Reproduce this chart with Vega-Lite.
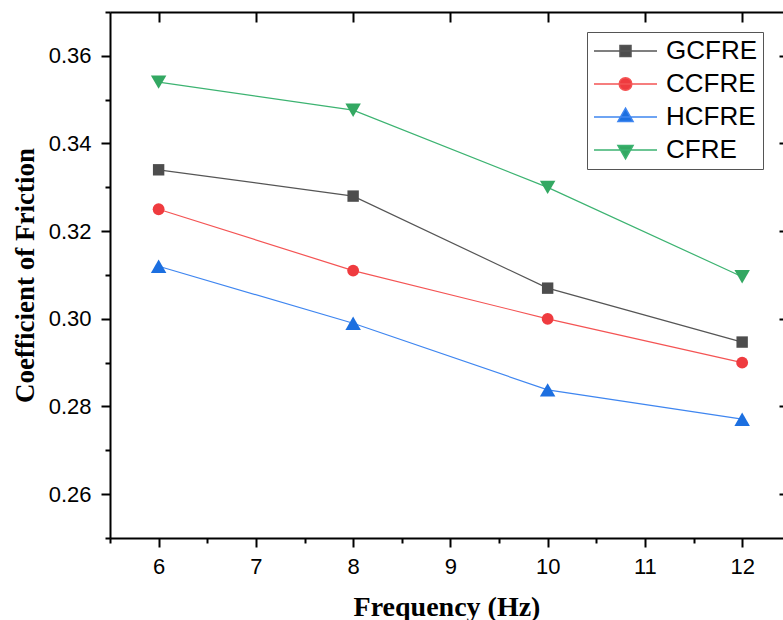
{
  "$schema": "https://vega.github.io/schema/vega-lite/v6.json",
  "autosize": {"type": "none"},
  "padding": {"left": 110, "top": 12, "right": 0, "bottom": 82},
  "width": 673,
  "height": 526,
  "background": "white",
  "config": {
    "view": {"stroke": null},
    "axis": {
      "grid": false,
      "domainColor": "black",
      "domainWidth": 2,
      "tickColor": "black",
      "tickWidth": 2,
      "labelFont": "Liberation Sans",
      "labelFontSize": 22,
      "labelColor": "black",
      "titleFont": "Liberation Serif",
      "titleFontWeight": "bold",
      "titleFontSize": 27,
      "titleColor": "black"
    }
  },
  "data": {
    "values": [
      {"freq": 6, "cof": 0.334, "series": "GCFRE"},
      {"freq": 8, "cof": 0.328, "series": "GCFRE"},
      {"freq": 10, "cof": 0.307, "series": "GCFRE"},
      {"freq": 12, "cof": 0.2947, "series": "GCFRE"},
      {"freq": 6, "cof": 0.325, "series": "CCFRE"},
      {"freq": 8, "cof": 0.311, "series": "CCFRE"},
      {"freq": 10, "cof": 0.300, "series": "CCFRE"},
      {"freq": 12, "cof": 0.290, "series": "CCFRE"},
      {"freq": 6, "cof": 0.312, "series": "HCFRE"},
      {"freq": 8, "cof": 0.299, "series": "HCFRE"},
      {"freq": 10, "cof": 0.2838, "series": "HCFRE"},
      {"freq": 12, "cof": 0.2771, "series": "HCFRE"},
      {"freq": 6, "cof": 0.354, "series": "CFRE"},
      {"freq": 8, "cof": 0.3476, "series": "CFRE"},
      {"freq": 10, "cof": 0.330, "series": "CFRE"},
      {"freq": 12, "cof": 0.3096, "series": "CFRE"}
    ]
  },
  "resolve": {"axis": {"x": "independent", "y": "independent"}},
  "layer": [
    {
      "mark": {"type": "line", "strokeWidth": 1.2},
      "encoding": {
        "x": {"field": "freq", "type": "quantitative",
              "scale": {"domain": [5.5, 12.42], "nice": false, "zero": false},
              "axis": {"orient": "bottom", "values": [6, 7, 8, 9, 10, 11, 12], "tickSize": 9, "labelPadding": 9,
                       "title": "Frequency (Hz)", "titlePadding": 16, "titleFontSize": 28}},
        "y": {"field": "cof", "type": "quantitative",
              "scale": {"domain": [0.25, 0.37], "nice": false, "zero": false},
              "axis": {"orient": "left", "values": [0.26, 0.28, 0.30, 0.32, 0.34, 0.36], "format": ".2f", "tickSize": 9, "labelPadding": 10,
                       "title": "Coefficient of Friction", "titlePadding": 9}},
        "stroke": {"field": "series", "type": "nominal",
                   "scale": {"domain": ["GCFRE", "CCFRE", "HCFRE", "CFRE"], "range": ["#555555", "#f45454", "#3f86f0", "#3cb371"]}},
        "detail": {"field": "series"}
      }
    },
    {
      "transform": [{"filter": "datum.series == 'GCFRE'"}],
      "mark": {"type": "point", "shape": "square", "filled": true, "opacity": 1, "size": 130},
      "encoding": {
        "x": {"field": "freq", "type": "quantitative",
              "axis": {"orient": "bottom", "values": [5.5, 6.5, 7.5, 8.5, 9.5, 10.5, 11.5], "tickSize": 5, "labels": false, "domain": false, "title": null}},
        "y": {"field": "cof", "type": "quantitative",
              "axis": {"orient": "left", "values": [0.25, 0.27, 0.29, 0.31, 0.33, 0.35, 0.37], "tickSize": 5, "labels": false, "domain": false, "title": null}},
        "color": {"field": "series", "type": "nominal",
                  "scale": {"domain": ["GCFRE", "CCFRE", "HCFRE", "CFRE"], "range": ["#4d4d4d", "#ef3b3f", "#1c6fe0", "#33a862"]}}
      }
    },
    {
      "transform": [{"filter": "datum.series == 'CCFRE'"}],
      "mark": {"type": "point", "shape": "circle", "filled": true, "opacity": 1, "size": 140},
      "encoding": {
        "x": {"field": "freq", "type": "quantitative",
              "axis": {"orient": "top", "values": [6, 7, 8, 9, 10, 11, 12], "tickSize": -10, "labels": false, "title": null}},
        "y": {"field": "cof", "type": "quantitative",
              "axis": {"orient": "right", "values": [0.26, 0.28, 0.30, 0.32, 0.34, 0.36], "tickSize": -10, "offset": 6, "labels": false, "title": null}},
        "color": {"field": "series", "type": "nominal"}
      }
    },
    {
      "transform": [{"filter": "datum.series == 'HCFRE'"}],
      "mark": {"type": "point", "shape": "triangle-up", "filled": true, "opacity": 1, "size": 240},
      "encoding": {
        "x": {"field": "freq", "type": "quantitative", "axis": null},
        "y": {"field": "cof", "type": "quantitative", "axis": null},
        "color": {"field": "series", "type": "nominal"}
      }
    },
    {
      "transform": [{"filter": "datum.series == 'CFRE'"}],
      "mark": {"type": "point", "shape": "triangle-down", "filled": true, "opacity": 1, "size": 240},
      "encoding": {
        "x": {"field": "freq", "type": "quantitative", "axis": null},
        "y": {"field": "cof", "type": "quantitative", "axis": null},
        "color": {"field": "series", "type": "nominal"}
      }
    },
    {
      "transform": [{"filter": "datum.freq > 100"}],
      "mark": {"type": "point", "filled": true, "opacity": 1, "size": 3969},
      "encoding": {
        "x": {"field": "freq", "type": "quantitative", "axis": null},
        "y": {"field": "cof", "type": "quantitative", "axis": null},
        "color": {"field": "series", "type": "nominal",
                  "legend": {"title": null, "orient": "none", "legendX": 477, "legendY": 20, "padding": 6,
                             "strokeColor": "#555555", "fillColor": "white", "symbolSize": 3969, "symbolStrokeWidth": 1.5,
                             "symbolOpacity": 1, "clipHeight": 26, "rowPadding": 7, "labelFont": "Liberation Sans",
                             "labelFontSize": 26, "labelColor": "black", "labelOffset": 8, "symbolOffset": 0}},
        "stroke": {"field": "series", "type": "nominal",
                   "legend": {"title": null, "orient": "none", "legendX": 477, "legendY": 20, "padding": 6,
                              "strokeColor": "#555555", "fillColor": "white", "symbolSize": 3969, "symbolStrokeWidth": 1.5,
                              "symbolOpacity": 1, "clipHeight": 26, "rowPadding": 7, "labelFont": "Liberation Sans",
                              "labelFontSize": 26, "labelColor": "black", "labelOffset": 8, "symbolOffset": 0}},
        "shape": {"field": "series", "type": "nominal",
                  "scale": {"domain": ["GCFRE", "CCFRE", "HCFRE", "CFRE"],
                            "range": [
                              "M -1 0 H 1 M -0.175 -0.175 H 0.175 V 0.175 H -0.175 Z",
                              "M -1 0 H 1 M -0.2 0 A 0.2 0.2 0 1 0 0.2 0 A 0.2 0.2 0 1 0 -0.2 0 Z",
                              "M -1 0 H 1 M 0 -0.28 L 0.24 0.14 L -0.24 0.14 Z",
                              "M -1 0 H 1 M 0 0.28 L 0.24 -0.14 L -0.24 -0.14 Z"
                            ]},
                  "legend": {"title": null, "orient": "none", "legendX": 477, "legendY": 20, "padding": 6,
                             "strokeColor": "#555555", "fillColor": "white", "symbolSize": 3969, "symbolStrokeWidth": 1.5,
                             "symbolOpacity": 1, "clipHeight": 26, "rowPadding": 7, "labelFont": "Liberation Sans",
                             "labelFontSize": 26, "labelColor": "black", "labelOffset": 8, "symbolOffset": 0}}
      }
    }
  ]
}
